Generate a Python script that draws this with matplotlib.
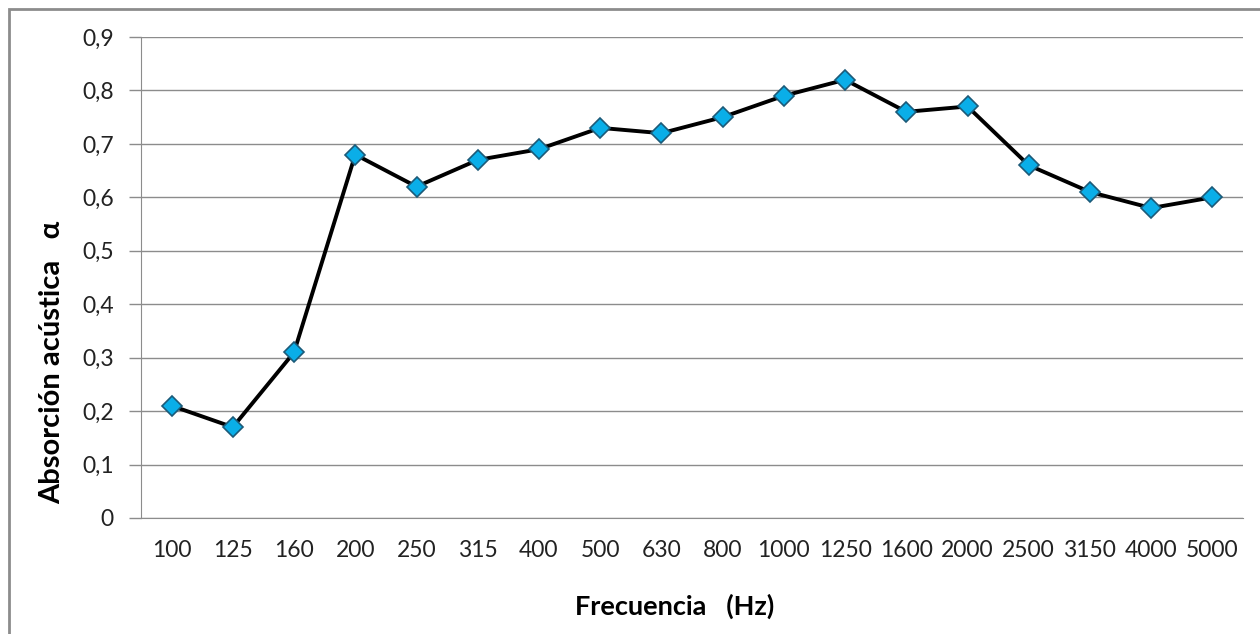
import matplotlib.pyplot as plt
from matplotlib.patches import Rectangle
from matplotlib.ticker import FuncFormatter

# datos
frecuencias = ['100', '125', '160', '200', '250', '315', '400', '500', '630',
               '800', '1000', '1250', '1600', '2000', '2500', '3150', '4000', '5000']
absorcion = [0.21, 0.17, 0.31, 0.68, 0.62, 0.67, 0.69, 0.73, 0.72,
             0.75, 0.79, 0.82, 0.76, 0.77, 0.66, 0.61, 0.58, 0.60]
y_ticks = [0, 0.1, 0.2, 0.3, 0.4, 0.5, 0.6, 0.7, 0.8, 0.9]

plt.rcParams['font.family'] = ['Lato', 'DejaVu Sans']

W, H = 1260, 634
fig = plt.figure(figsize=(W / 100, H / 100), dpi=100)
ax = fig.add_axes([141 / W, 1 - 518 / H, (1243 - 141) / W, (518 - 37) / H])

# marco exterior del gráfico
fig.patches.append(Rectangle((8.5 / W, -0.1), 1.2, 1 - 8.5 / H + 0.1,
                             transform=fig.transFigure, fill=False,
                             edgecolor='#8c8c8c', linewidth=2))

x = list(range(len(frecuencias)))
ax.plot(x, absorcion, color='black', linewidth=2.8, zorder=3,
        marker='D', markersize=10, markerfacecolor='#0aaee8',
        markeredgecolor='#1c5a78', markeredgewidth=1.2)

ax.set_xlim(-0.5, len(frecuencias) - 0.5)
ax.set_ylim(0, 0.9)
ax.set_xticks(x)
ax.set_xticklabels(frecuencias)
ax.set_yticks(y_ticks)
ax.yaxis.set_major_formatter(FuncFormatter(
    lambda v, p: '0' if v == 0 else f'{v:.1f}'.replace('.', ',')))

ax.grid(axis='y', color='#8c8c8c', linewidth=1)
ax.set_axisbelow(True)
for s in ['top', 'right']:
    ax.spines[s].set_visible(False)
ax.spines['left'].set_color('#8c8c8c')
ax.spines['bottom'].set_color('#8c8c8c')
ax.tick_params(axis='y', length=9, width=1, color='#8c8c8c', pad=10.5,
               labelsize=16.5, labelcolor='#222222')
ax.tick_params(axis='x', length=0, pad=16, labelsize=16.5, labelcolor='#222222')

# títulos de ejes colocados como en el original
fig.text(675 / W, 1 - 606 / H, 'Frecuencia   (Hz)', fontsize=19.5, fontweight='bold',
         ha='center', va='center')
fig.text(52 / W, 1 - 362 / H, 'Absorción acústica   α', fontsize=21, fontweight='bold',
         rotation=90, ha='center', va='center')

fig.savefig('out.png', dpi=100)
